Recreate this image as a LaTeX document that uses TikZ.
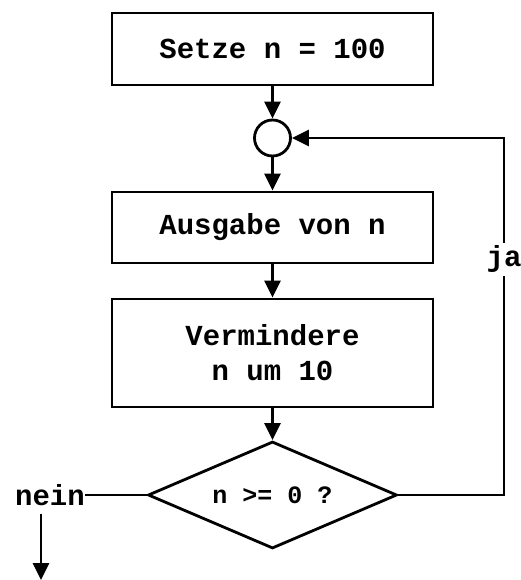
\documentclass[tikz,border=0pt]{standalone}
\usepackage{fontspec}
\setmonofont{Liberation Mono}
\usetikzlibrary{arrows.meta,shapes.geometric}
\tikzset{
  proc/.style={draw, line width=2.8pt, minimum width=321pt, inner sep=0pt, align=center,
    font=\ttfamily\bfseries\fontsize{29}{35}\selectfont},
  lbl/.style={font=\ttfamily\bfseries\fontsize{29}{35}\selectfont, inner sep=0pt},
  dec/.style={draw, diamond, line width=2.8pt, aspect=2.33, minimum width=249pt, minimum height=107pt, inner sep=0pt,
    font=\ttfamily\bfseries\fontsize{25}{30}\selectfont},
  junc/.style={draw, circle, line width=2.8pt, minimum size=36pt, inner sep=0pt},
  conn/.style={line width=2.8pt},
  arr/.style={-{Triangle[length=17pt,width=16pt]}, line width=2.8pt}
}
\begin{document}
\begin{tikzpicture}[x=1pt,y=-1pt]
\useasboundingbox (0,0) rectangle (520,580);
\node[proc, minimum height=72pt] (set) at (272.5,49) {Setze n = 100};
\node[junc] (j) at (272.5,138) {};
\node[proc, minimum height=71pt] (out) at (272.5,227.5) {Ausgabe von n};
\node[proc, minimum height=108pt] (dec) at (272.5,353) {Vermindere\\n um 10};
\node[dec] (q) at (272.5,495) {n >= 0 ?};
\node[lbl] (nein) at (50,495) {nein};
\coordinate (ns) at (41,514);
\coordinate (ne) at (41,580);
\coordinate (r) at (504,495);
\draw[arr] (set) -- (j);
\draw[arr] (j) -- (out);
\draw[arr] (out) -- (dec);
\draw[arr] (dec) -- (q);
\draw[arr] (q.east) -- (r) -- node[pos=0.66, fill=white, lbl, inner sep=3pt] (ja) {ja} (r |- j) -- (j.east);
\draw[conn] (nein.east) -- (q.west);
\draw[arr] (ns) -- (ne);
\end{tikzpicture}
\end{document}
